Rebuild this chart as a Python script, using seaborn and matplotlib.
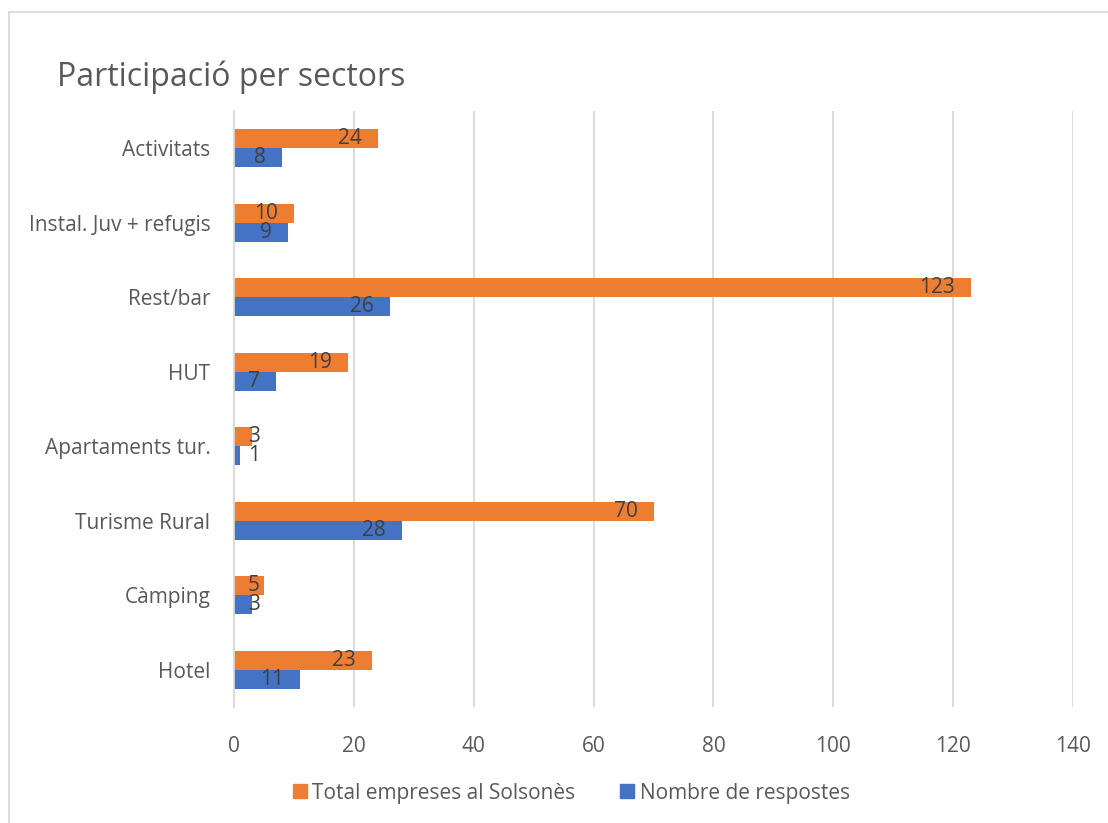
import matplotlib
matplotlib.use("Agg")
import matplotlib.pyplot as plt
import seaborn as sns
import pandas as pd
from matplotlib.lines import Line2D

categories = ["Activitats", "Instal. Juv + refugis", "Rest/bar", "HUT",
              "Apartaments tur.", "Turisme Rural", "Càmping", "Hotel"]
total_empreses = [24, 10, 123, 19, 3, 70, 5, 23]
nombre_respostes = [8, 9, 26, 7, 1, 28, 3, 11]
series_names = ["Total empreses al Solsonès", "Nombre de respostes"]
x_ticks = [0, 20, 40, 60, 80, 100, 120, 140]
title = "Participació per sectors"

df = pd.DataFrame({
    "sector": categories * 2,
    "valor": total_empreses + nombre_respostes,
    "serie": [series_names[0]] * len(categories) + [series_names[1]] * len(categories),
})

sns.set_style("white")
plt.rcParams["font.family"] = ["Open Sans", "DejaVu Sans"]

W, H = 1108, 823
fig = plt.figure(figsize=(W / 100, H / 100), dpi=100)
ax = fig.add_axes([234 / W, 1 - 707 / H, (1073 - 234) / W, (707 - 111) / H])

palette = {series_names[0]: "#ED7D31", series_names[1]: "#4472C4"}
sns.barplot(data=df, x="valor", y="sector", hue="serie", order=categories,
            hue_order=series_names, palette=palette, orient="h", width=0.51,
            saturation=1, ax=ax, legend=False, edgecolor="none")

ax.set_xlim(0, 140)
ax.set_xticks(x_ticks)
ax.grid(axis="x", color="#D9D9D9", linewidth=1.3)
ax.set_axisbelow(True)
for s in ["top", "right", "bottom"]:
    ax.spines[s].set_visible(False)
ax.spines["left"].set_color("#D9D9D9")
ax.spines["left"].set_linewidth(1.3)
ax.tick_params(axis="both", length=0, colors="#595959", labelsize=15)
ax.tick_params(axis="x", pad=21)
ax.tick_params(axis="y", pad=17)
ax.set_xlabel("")
ax.set_ylabel("")

# data labels (inside end)
px_per_unit = (1073 - 234) / 140
for cont in ax.containers:
    for patch in cont.patches:
        v = patch.get_width()
        yc = patch.get_y() + patch.get_height() / 2
        xr = max(v - 16 / px_per_unit, 26 / px_per_unit)
        ax.text(xr, yc, f"{int(round(v))}", ha="right", va="center",
                fontsize=15, color="#404040")

fig.text(57 / W, 1 - 77 / H, title, fontsize=23, color="#595959",
         ha="left", va="center")

handles = [Line2D([0], [0], marker="s", linestyle="none", markersize=10,
                  markerfacecolor=palette[n], markeredgecolor=palette[n]) for n in series_names]
leg = fig.legend(handles, series_names, loc="center", bbox_to_anchor=(0.514, 1 - 793 / H),
                 ncol=2, frameon=False, fontsize=15, handletextpad=0.1,
                 columnspacing=2.0, handlelength=1.0)
for t in leg.get_texts():
    t.set_color("#595959")

# outer chart border (left and top visible)
fig.add_artist(Line2D([9 / W, 9 / W], [0, 1 - 12 / H], transform=fig.transFigure,
                      color="#D9D9D9", linewidth=1.3))
fig.add_artist(Line2D([9 / W, 1], [1 - 12 / H, 1 - 12 / H], transform=fig.transFigure,
                      color="#D9D9D9", linewidth=1.3))

fig.savefig("out.png", dpi=100, facecolor="white")
